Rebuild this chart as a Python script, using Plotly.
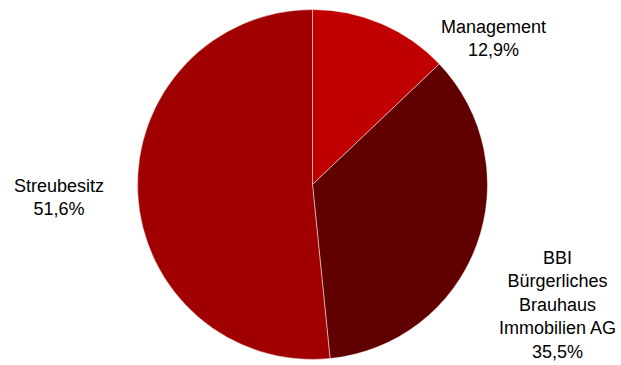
import plotly.graph_objects as go

labels = ["Management", "BBI<br>Bürgerliches<br>Brauhaus<br>Immobilien AG", "Streubesitz"]
values = [12.9, 35.5, 51.6]
colors = ["#C00000", "#600000", "#A00000"]
label_pos = [(493, 38), (557.5, 305), (58.5, 197)]  # pixel centres of label blocks

W, H = 621, 365
cx, cy, r = 312.5, 184.5, 175

fig = go.Figure(go.Pie(
    labels=labels, values=values, sort=False, direction="clockwise", rotation=0,
    marker=dict(colors=colors, line=dict(color="rgba(255,255,255,0.6)", width=0.8)),
    textinfo="none", hoverinfo="skip", showlegend=False,
    domain=dict(x=[(cx - r) / W, (cx + r) / W], y=[(H - cy - r) / H, (H - cy + r) / H]),
))

for lab, val, (px, py) in zip(labels, values, label_pos):
    txt = f"{lab}<br>{val:.1f}%".replace(".", ",")
    fig.add_annotation(x=px / W, y=1 - py / H, xref="paper", yref="paper",
                       text=txt, showarrow=False, xanchor="center", yanchor="middle",
                       align="center",
                       font=dict(family="Liberation Sans, Arial, sans-serif", size=18, color="#000"))

fig.update_layout(width=W, height=H, margin=dict(l=0, r=0, t=0, b=0),
                  paper_bgcolor="white", plot_bgcolor="white")
fig.write_html("out.html")
